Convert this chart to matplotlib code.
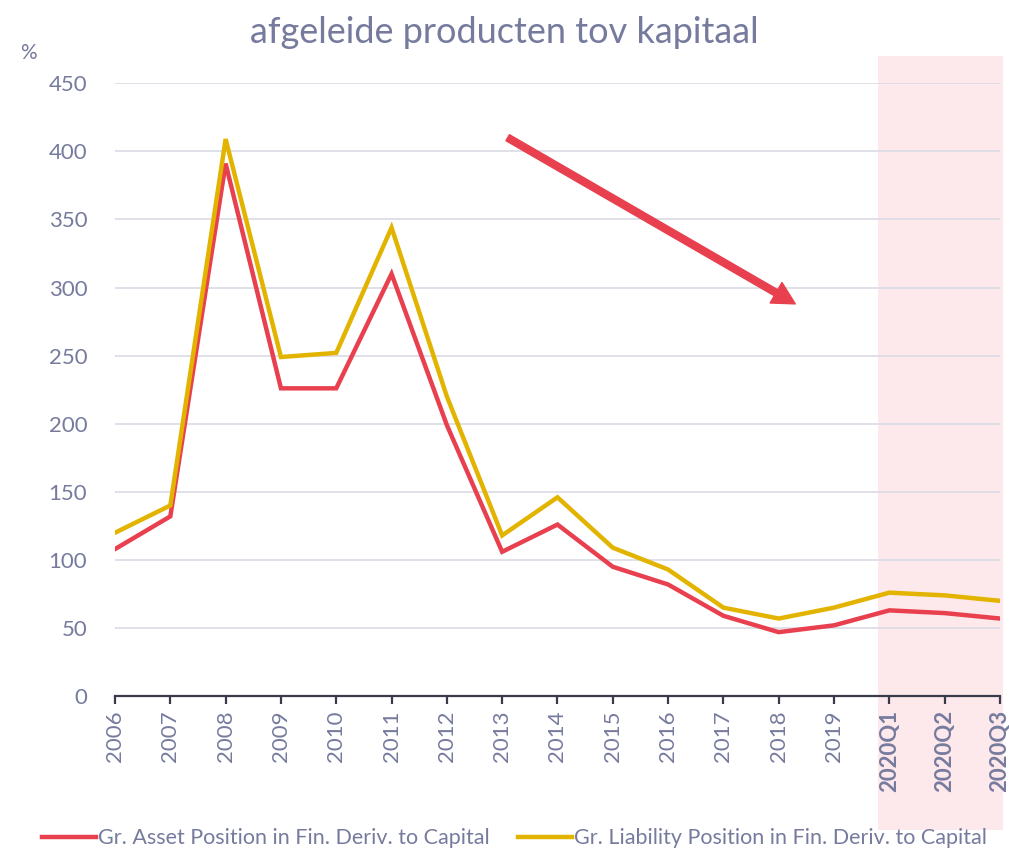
import matplotlib
matplotlib.use('Agg')
import matplotlib.pyplot as plt
from matplotlib.patches import Rectangle
from matplotlib.transforms import blended_transform_factory

plt.rcParams['font.family'] = ['Lato', 'DejaVu Sans']

# data
periods = ['2006', '2007', '2008', '2009', '2010', '2011', '2012', '2013', '2014',
           '2015', '2016', '2017', '2018', '2019', '2020Q1', '2020Q2', '2020Q3']
asset = [108, 132, 391, 226, 226, 310, 199, 106, 126, 95, 82, 59, 47, 52, 63, 61, 57]
liability = [120, 140, 409, 249, 252, 344, 220, 118, 146, 109, 93, 65, 57, 65, 76, 74, 70]
yticks = [0, 50, 100, 150, 200, 250, 300, 350, 400, 450]

txt = '#767b9e'
red = '#e8404e'
yellow = '#e2b400'

fig = plt.figure(figsize=(10.09, 8.49), dpi=100)
ax = fig.add_axes([0.114, 0.180, 0.877, 0.722])
ax.set_facecolor('none')

x = list(range(len(periods)))
ax.plot(x, asset, color=red, lw=3.2, label='Gr. Asset Position in Fin. Deriv. to Capital',
        solid_joinstyle='miter', zorder=3)
ax.plot(x, liability, color=yellow, lw=3.2, label='Gr. Liability Position in Fin. Deriv. to Capital',
        solid_joinstyle='miter', zorder=3)

# shaded quarterly region (extends over tick labels)
tr = blended_transform_factory(ax.transData, fig.transFigure)
ax.add_patch(Rectangle((13.8, 0.022), 2.25, 0.912, transform=tr, clip_on=False,
                       facecolor='#fde8ec', edgecolor='none', zorder=0))

ax.set_xlim(0, 16)
ax.set_ylim(0, 450)
ax.set_yticks(yticks)
ax.set_xticks(x)
ax.set_xticklabels(periods, rotation=90)
for lab in ax.get_xticklabels():
    if 'Q' in lab.get_text():
        lab.set_fontweight('bold')

ax.grid(axis='y', color='#dcdde6', lw=1.3, zorder=1)
for s in ['top', 'right', 'left']:
    ax.spines[s].set_visible(False)
ax.spines['bottom'].set_color('#3a3b4a')
ax.spines['bottom'].set_linewidth(1.6)
ax.spines['bottom'].set_zorder(4)
ax.tick_params(axis='y', length=0, labelsize=16, labelcolor=txt, pad=20)
ax.tick_params(axis='x', length=6, width=1.6, color='#3a3b4a', labelsize=16,
               labelcolor=txt, pad=4)

ax.annotate('', xy=(12.3, 288), xytext=(7.1, 410),
            arrowprops=dict(width=5, headwidth=17, headlength=16,
                            color=red, shrink=0))

fig.text(0.5, 0.962, 'afgeleide producten tov kapitaal', ha='center', va='center',
         fontsize=26, color=txt)
fig.text(0.028, 0.938, '%', ha='center', va='center', fontsize=15, color=txt)

fig.legend(loc='lower center', bbox_to_anchor=(0.51, -0.022), ncol=2, frameon=False,
           fontsize=15.5, labelcolor=txt, handlelength=2.5, handletextpad=0.1,
           columnspacing=1.3)

plt.savefig('out.png')
